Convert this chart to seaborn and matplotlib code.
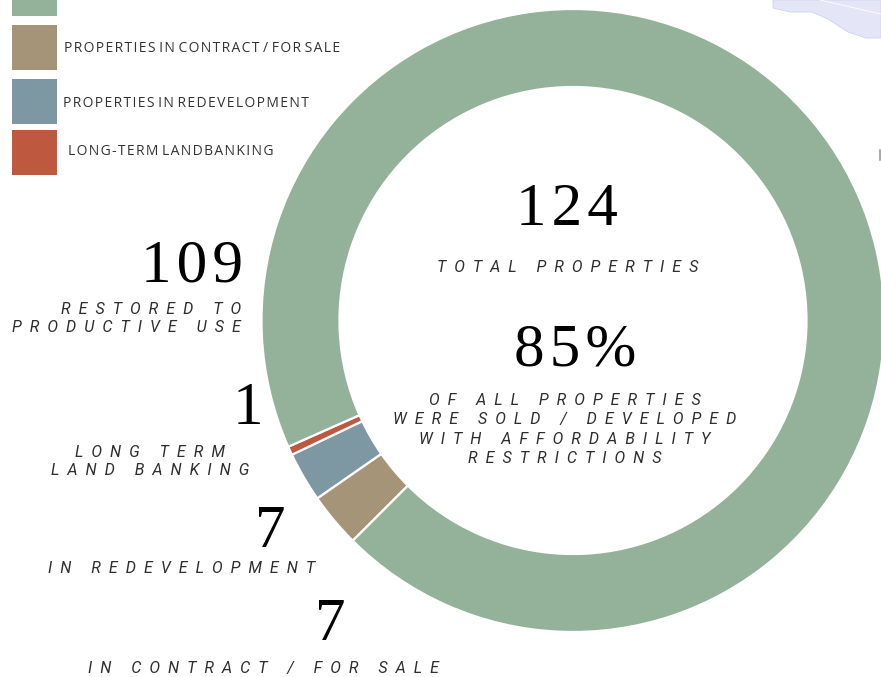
import matplotlib
matplotlib.use("Agg")
import matplotlib.pyplot as plt
import seaborn as sns
from matplotlib.patches import Rectangle, Polygon

# --- data ------------------------------------------------------------------
categories = ["Restored to productive use", "In contract / for sale",
              "In redevelopment", "Long-term landbanking"]
counts = [109, 7, 7, 1]
total_properties = 124
affordable_pct = 85

# ring slices in drawing order (clockwise from lower left), share of ring in %
ring_order = ["In contract / for sale", "In redevelopment",
              "Long-term landbanking", "Restored to productive use"]
ring_share = [2.83, 2.58, 0.45, 94.14]

palette = {
    "Restored to productive use": "#93B299",
    "In contract / for sale": "#A69479",
    "In redevelopment": "#7D97A3",
    "Long-term landbanking": "#BE583F",
}

# the first legend entry (green) is cropped off the top, only its square shows
legend_cats = ["Restored to productive use", "In contract / for sale",
               "In redevelopment", "Long-term landbanking"]
legend_labels = [None,
                 "PROPERTIES IN CONTRACT / FOR SALE",
                 "PROPERTIES IN REDEVELOPMENT",
                 "LONG-TERM LANDBANKING"]

side_labels = {
    "Restored to productive use": "RESTORED TO\nPRODUCTIVE USE",
    "In contract / for sale": "IN CONTRACT / FOR SALE",
    "In redevelopment": "IN REDEVELOPMENT",
    "Long-term landbanking": "LONG TERM\nLAND BANKING",
}

# --- styling -----------------------------------------------------------------
sns.set_theme(style="white")
plt.rcParams["font.family"] = ["Roboto", "DejaVu Sans"]

SERIF = ["Liberation Serif", "DejaVu Serif"]
ITAL = dict(family=["Roboto", "DejaVu Sans"], style="italic", size=11.5,
            color="#2e2e2e")
BIG = dict(family=SERIF, size=44, color="black")
TEXT_DARK = "#333333"


def track(s, letter="\u2002", word="\u2002 \u2002"):
    """fake letter spacing: pad every character of each line"""
    out = []
    for line in s.split("\n"):
        out.append(word.join(letter.join(w) for w in line.split(" ")))
    return "\n".join(out)


def digits(s):
    return "\u200a".join(s)


fig = plt.figure(figsize=(8.81, 6.77), dpi=100)
ax = fig.add_axes([0, 0, 1, 1])

# donut (y axis is flipped below so the wedges run clockwise on screen)
cx, cy, r_out, ring_w = 573, 320.5, 311.5, 78
ax.pie(ring_share, colors=[palette[c] for c in ring_order],
       startangle=135, counterclock=True, radius=r_out, center=(cx, cy),
       wedgeprops=dict(width=ring_w, edgecolor="white", linewidth=1.6))

ax.set_xlim(0, 881)
ax.set_ylim(677, 0)
ax.set_aspect("equal")
ax.axis("off")

# legend squares and labels
sq_tops = [-29, 25, 79, 130]
lab_pos = [None, (64, 52), (63, 107), (68, 155)]
for cat, lab, top, pos in zip(legend_cats, legend_labels, sq_tops, lab_pos):
    ax.add_patch(Rectangle((12, top), 45, 45, facecolor=palette[cat],
                           edgecolor="none"))
    if lab is None:
        continue
    ax.text(pos[0], pos[1], track(lab, letter="\u200a", word=" "), fontsize=10,
            family=["Open Sans", "DejaVu Sans"], color=TEXT_DARK,
            ha="left", va="baseline")

# centre texts
ax.text(567, 225, digits(str(total_properties)), ha="center", va="baseline", **BIG)
ax.text(568, 272, track("TOTAL PROPERTIES"), ha="center", va="baseline", **ITAL)
ax.text(575, 365, digits(f"{affordable_pct}%"), ha="center", va="baseline", **BIG)
centre_lines = ["OF ALL PROPERTIES", "WERE SOLD / DEVELOPED",
                "WITH AFFORDABILITY", "RESTRICTIONS"]
for i, line in enumerate(centre_lines):
    ax.text(565, 405 + i * 19.4, track(line), ha="center", va="baseline", **ITAL)

# side callouts: number, then label
n = dict(zip(categories, counts))
callouts = [
    # category, number pos, number ha, label pos, label ha
    ("Restored to productive use", (243, 282), "right", (241, 314), "right"),
    ("Long-term landbanking", (248, 424), "center", (150, 457), "center"),
    ("In redevelopment", (270, 547), "center", (182, 573), "center"),
    ("In contract / for sale", (330, 640), "center", (263, 673), "center"),
]
for cat, (nx, ny), nha, (tx, ty), tha in callouts:
    ax.text(nx, ny, digits(str(n[cat])), ha=nha, va="baseline", **BIG)
    lines = side_labels[cat].split("\n")
    for j, line in enumerate(lines):
        ax.text(tx, ty + j * 18, track(line), ha=tha, va="baseline",
                multialignment=tha, **ITAL)

# cropped decoration in the top right corner
ax.add_patch(Polygon([(773, 0), (773, 8), (790, 12), (812, 12), (828, 19),
                      (848, 32), (866, 38), (881, 38), (881, 0)],
                     closed=True, facecolor="#E4E6F8", edgecolor="#cfd1e6",
                     linewidth=0.6))
ax.plot([820, 881], [0, 14], color="white", lw=0.6)
ax.plot([879.5, 879.5], [150, 160], color="#aaaaaa", lw=1.5)

fig.savefig("out.png", dpi=100)
